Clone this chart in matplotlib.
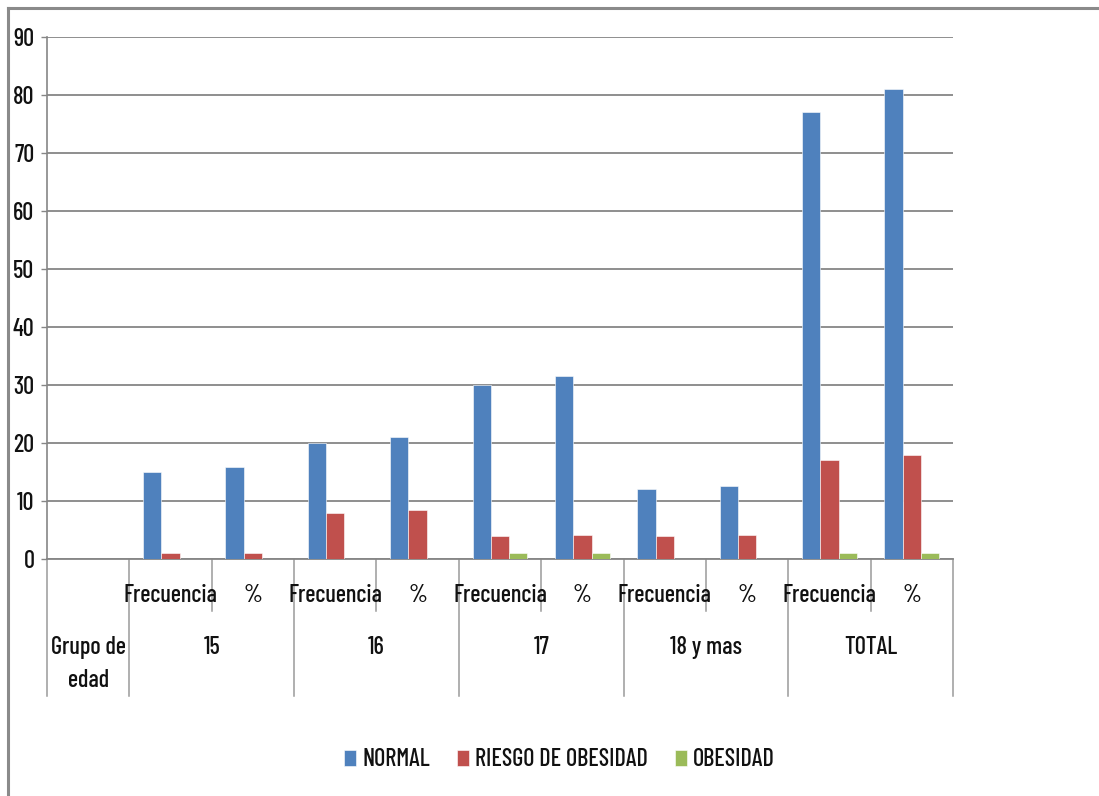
import matplotlib
matplotlib.use("Agg")
import matplotlib.pyplot as plt
from matplotlib.lines import Line2D
from matplotlib import font_manager as fm

# ---- data ----
groups = ["Grupo de\nedad", "15", "16", "17", "18 y mas", "TOTAL"]
sub_labels = ["", "Frecuencia", "%", "Frecuencia", "%", "Frecuencia", "%",
              "Frecuencia", "%", "Frecuencia", "%"]
series_names = ["NORMAL", "RIESGO DE OBESIDAD", "OBESIDAD"]
normal = [0, 15, 15.8, 20, 21.0, 30, 31.6, 12, 12.6, 77, 81.0]
riesgo = [0, 1, 1.05, 8, 8.4, 4, 4.2, 4, 4.2, 17, 17.9]
obesidad = [0, 0, 0, 0, 0, 1, 1.05, 0, 0, 1, 1.05]
yticks = [0, 10, 20, 30, 40, 50, 60, 70, 80, 90]

colors = ["#4F81BD", "#C0504D", "#9BBB59"]
grid_c = "#868686"
txt_c = "#111111"

names = {f.name for f in fm.fontManager.ttflist}
fam = "Barlow Condensed" if "Barlow Condensed" in names else "DejaVu Sans"
plt.rcParams["font.family"] = [fam, "DejaVu Sans"]
plt.rcParams["font.weight"] = 500
fs = 17.5

W, H = 1099, 796
fig = plt.figure(figsize=(W / 100, H / 100), dpi=100)
L, R, B, T = 47, 953, 559, 37
ax = fig.add_axes([L / W, 1 - B / H, (R - L) / W, (B - T) / H])

n = len(sub_labels)
x = list(range(n))
bw = 0.222
for k, (vals, c) in enumerate(zip([normal, riesgo, obesidad], colors)):
    ax.bar([xi + (k - 1) * bw for xi in x], vals, width=bw, color=c,
           edgecolor="white", linewidth=0.4, label=series_names[k], zorder=3)

ax.set_xlim(-0.5, n - 0.5)
ax.set_ylim(0, 90)
ax.set_yticks(yticks)
ax.set_yticklabels([str(v) for v in yticks], fontsize=fs, color=txt_c)
ax.yaxis.grid(True, color=grid_c, linewidth=1.3, zorder=0)
ax.set_axisbelow(True)
ax.tick_params(axis="y", length=4.5, width=1, color=grid_c, pad=4.5)
ax.set_xticks([])
for s in ["top", "right"]:
    ax.spines[s].set_visible(False)
ax.spines["left"].set_color(grid_c)
ax.spines["bottom"].set_color(grid_c)
ax.spines["left"].set_linewidth(1.2)
ax.spines["bottom"].set_linewidth(1.3)

tr = ax.get_xaxis_transform()
ph = B - T


def ay(py):
    return -(py - B) / ph


# category separators
for b in [-0.5, 0.5, 2.5, 4.5, 6.5, 8.5, 10.5]:
    ax.add_line(Line2D([b, b], [0, ay(696)], transform=tr, color="#9a9a9a",
                       linewidth=1.1, clip_on=False))
for b in [1.5, 3.5, 5.5, 7.5, 9.5]:
    ax.add_line(Line2D([b, b], [0, ay(611)], transform=tr, color="#9a9a9a",
                       linewidth=1.1, clip_on=False))
# inner labels
for xi, lab in zip(x, sub_labels):
    if lab:
        ax.text(xi, ay(602), lab, transform=tr, ha="center", va="baseline",
                fontsize=fs, color=txt_c)
# group labels
group_centers = [0, 1.5, 3.5, 5.5, 7.5, 9.5]
for gc, g in zip(group_centers, groups):
    if "\n" in g:
        for j, part in enumerate(g.split("\n")):
            ax.text(gc, ay(654 + 33 * j), part, transform=tr, ha="center",
                    va="baseline", fontsize=fs, color=txt_c)
    else:
        ax.text(gc, ay(654), g, transform=tr, ha="center", va="baseline",
                fontsize=fs, color=txt_c)

leg = fig.legend(loc="center", bbox_to_anchor=(0.509, 1 - 760 / H), ncol=3,
                 frameon=False, fontsize=fs, handlelength=0.5, handleheight=0.65,
                 handletextpad=0.25, columnspacing=1.1, labelcolor=txt_c)

# outer frame (top and left)
fig.add_artist(Line2D([8 / W, 1], [1 - 8 / H, 1 - 8 / H], transform=fig.transFigure,
                      color="#8a8a8a", linewidth=2.2))
fig.add_artist(Line2D([8 / W, 8 / W], [0, 1 - 8 / H], transform=fig.transFigure,
                      color="#8a8a8a", linewidth=2.2))

fig.savefig("out.png", dpi=100)
